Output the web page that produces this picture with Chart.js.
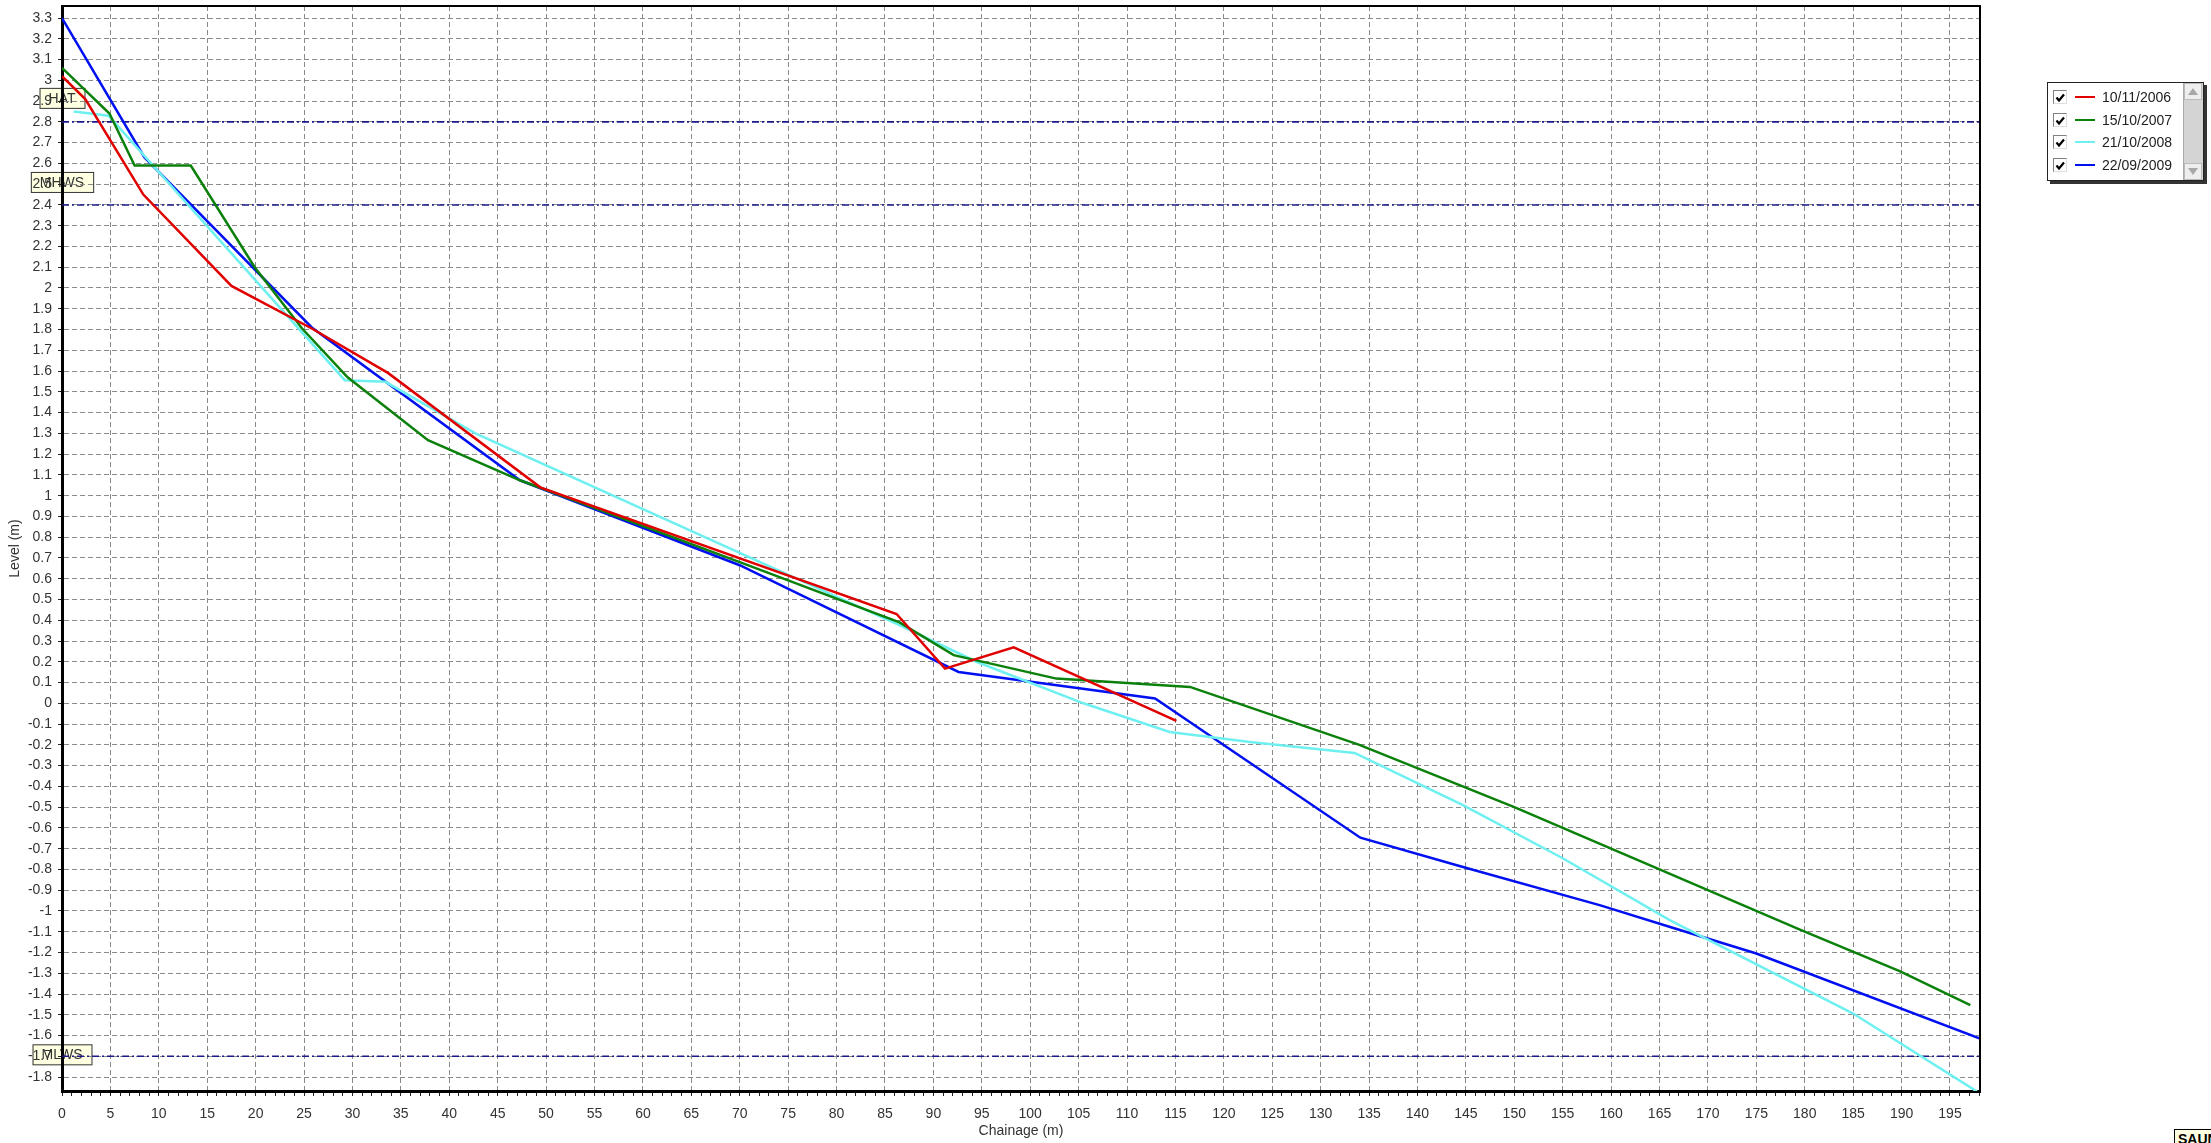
<!DOCTYPE html>
<html>
<head>
<meta charset="utf-8">
<title>Beach profile levels</title>
<script src="https://cdn.jsdelivr.net/npm/chart.js@4.4.1/dist/chart.umd.min.js"></script>
<style>
    html, body { margin: 0; padding: 0; background: #fff; overflow: hidden; }
    #wrap { position: relative; width: 2211px; height: 1143px; }
    #legend {
        position: absolute; left: 2047px; top: 82px; width: 155px; height: 97px;
        border: 1px solid #222; background: #fff; box-shadow: 3px 3px 0 #333;
        font: 14px 'Liberation Sans', Arial, sans-serif; color: #222;
    }
    .row { position: absolute; left: 0; height: 20px; display: flex; align-items: center; }
    .cb { margin-left: 5px; width: 12px; height: 12px; border: 1px solid #808080; border-right-color: #ddd; border-bottom-color: #ddd; background: #fff; }
    .sw { margin-left: 8px; width: 20px; height: 2px; }
    .lb { margin-left: 7px; }
    #scroll { position: absolute; right: 0; top: 0; width: 19px; height: 100%; background: #d4d4d4; border-left: 1px solid #aaa; }
    .btn { position: absolute; left: 0; width: 18px; height: 17px; background: #eee; border: 1px solid #bbb; box-sizing: border-box; }
    #sau {
        position: absolute; left: 2174px; top: 1129px; width: 60px; height: 20px;
        border: 1px solid #000; background: #ffffe1; box-sizing: border-box;
        font: bold 14px 'Liberation Sans', Arial, sans-serif; padding-left: 3px; line-height: 18px;
    }
</style>
</head>
<body>
<div id="wrap">
    <canvas id="chart" width="2211" height="1143"></canvas>
    <div id="legend"></div>
    <div id="sau">SAUNTON</div>
</div>
<script>
const FONT = "'Liberation Sans', Arial, sans-serif";
const GRID = '#8a8a8a';

// survey dates and line colours
const surveyDates = ['10/11/2006', '15/10/2007', '21/10/2008', '22/09/2009'];
const surveyColors = ['#e00000', '#0b800b', '#6ef0f0', '#0010f0'];

// chainage (m) / level (m) per survey
const chain2006 = [0, 2.4, 8.4, 17.5, 25.8, 33.7, 49.4, 86.2, 91.2, 98.3, 115.1];
const level2006 = [3.02, 2.91, 2.45, 2.01, 1.805, 1.59, 1.04, 0.43, 0.167, 0.27, -0.085];

const chain2007 = [0, 4.9, 7.5, 13.3, 19.9, 24.8, 29.5, 37.8, 47.3, 50.1, 70, 86.5, 92.1, 102.7, 116.5, 134, 150, 165, 179.5, 189.8, 197.1];
const level2007 = [3.06, 2.84, 2.59, 2.59, 2.10, 1.805, 1.57, 1.267, 1.074, 1.026, 0.68, 0.39, 0.232, 0.119, 0.079, -0.2, -0.5, -0.8, -1.09, -1.29, -1.454];

const chain2008 = [1.2, 4.8, 29.2, 33.4, 42.7, 86.5, 94.5, 105.5, 114.4, 122.7, 133.5, 144.7, 155, 166.1, 185, 197.8];
const level2008 = [2.85, 2.83, 1.556, 1.548, 1.30, 0.376, 0.199, 0.0, -0.138, -0.186, -0.239, -0.49, -0.746, -1.045, -1.494, -1.87];

const chain2009 = [0, 8.5, 25.8, 47.3, 70, 92.6, 112.9, 134.1, 144.7, 158.9, 166.1, 175, 198.1];
const level2009 = [3.3, 2.63, 1.81, 1.074, 0.665, 0.151, 0.023, -0.647, -0.788, -0.973, -1.077, -1.205, -1.615];

// tide levels
const tideNames = ['HAT', 'MHWS', 'MLWS'];
const tideLevels = [2.8, 2.4, -1.7];

const X_MIN = 0, X_MAX = 198.1;
const Y_MIN = -1.867, Y_MAX = 3.358;

const chains = [chain2006, chain2007, chain2008, chain2009];
const levels = [level2006, level2007, level2008, level2009];

function toPoints(xs, ys) {
    return xs.map((x, i) => ({ x: x, y: ys[i] }));
}

const datasets = surveyDates.map((d, i) => ({
    label: d,
    data: toPoints(chains[i], levels[i]),
    borderColor: surveyColors[i],
    borderWidth: 2.5,
    pointRadius: 0,
    tension: 0,
    fill: false
}));

tideLevels.forEach((lv, i) => {
    datasets.push({
        label: tideNames[i],
        data: [{ x: X_MIN, y: lv }, { x: X_MAX, y: lv }],
        borderColor: '#1a1a8a',
        borderWidth: 1.6,
        borderDash: [7, 3, 2, 3],
        pointRadius: 0,
        fill: false
    });
});

// tide label boxes sit under the axis, drawn before everything
const tideBoxes = {
    id: 'tideBoxes',
    beforeDraw(chart) {
        const { ctx, chartArea, scales } = chart;
        const offsets = [-24, -23, -2];
        ctx.save();
        ctx.font = '14px ' + FONT;
        ctx.textAlign = 'center';
        ctx.textBaseline = 'middle';
        tideNames.forEach((name, i) => {
            const cy = scales.y.getPixelForValue(tideLevels[i]) + offsets[i];
            const w = ctx.measureText(name).width + 18;
            const cx = chartArea.left;
            ctx.fillStyle = '#ffffe1';
            ctx.fillRect(cx - w / 2, cy - 10, w, 21);
            ctx.strokeStyle = '#333';
            ctx.lineWidth = 1;
            ctx.strokeRect(cx - w / 2 + 0.5, cy - 9.5, w, 20);
            ctx.fillStyle = '#333';
            ctx.fillText(name, cx, cy + 1);
        });
        ctx.restore();
    },
    afterDraw(chart) {
        const { ctx, chartArea } = chart;
        ctx.save();
        ctx.strokeStyle = '#000';
        ctx.lineWidth = 2;
        ctx.beginPath();
        ctx.moveTo(chartArea.left, chartArea.top);
        ctx.lineTo(chartArea.right, chartArea.top);
        ctx.lineTo(chartArea.right, chartArea.bottom);
        ctx.stroke();
        ctx.restore();
    }
};

new Chart(document.getElementById('chart'), {
    type: 'line',
    data: { datasets: datasets },
    options: {
        responsive: false,
        animation: false,
        devicePixelRatio: 1,
        events: [],
        layout: { padding: { left: 0, top: 6, right: 231, bottom: 0 } },
        plugins: { legend: { display: false }, tooltip: { enabled: false } },
        scales: {
            x: {
                type: 'linear',
                bounds: 'data',
                min: X_MIN,
                max: X_MAX,
                afterBuildTicks: s => {
                    s.ticks = [];
                    for (let v = 0; v <= X_MAX; v++) s.ticks.push({ value: v });
                },
                afterFit: s => {
                    s.height = 52;
                    s.paddingLeft = 0;
                    s.paddingRight = 0;
                },
                grid: {
                    color: c => (c.tick && c.tick.value % 5 === 0) ? GRID : 'transparent',
                    lineWidth: 1,
                    tickColor: '#222',
                    tickLength: 5,
                    tickBorderDash: []
                },
                border: { color: '#000', width: 3, dash: [5, 3] },
                ticks: {
                    autoSkip: false,
                    maxRotation: 0,
                    padding: 10,
                    color: '#333',
                    font: { size: 14, family: FONT },
                    callback: v => (v % 5 === 0 ? String(v) : '')
                },
                title: {
                    display: true,
                    text: 'Chainage (m)',
                    color: '#333',
                    font: { size: 14, family: FONT },
                    padding: { top: 0, bottom: 3 }
                }
            },
            y: {
                type: 'linear',
                bounds: 'data',
                min: Y_MIN,
                max: Y_MAX,
                afterBuildTicks: s => {
                    s.ticks = [];
                    for (let i = -18; i <= 33; i++) s.ticks.push({ value: i / 10 });
                },
                afterFit: s => {
                    s.width = 62;
                    s.paddingTop = 0;
                    s.paddingBottom = 0;
                },
                grid: {
                    color: GRID,
                    lineWidth: 1,
                    tickColor: '#222',
                    tickLength: 4,
                    tickBorderDash: []
                },
                border: { color: '#000', width: 3, dash: [5, 3] },
                ticks: {
                    autoSkip: false,
                    padding: 6,
                    color: '#333',
                    font: { size: 14, family: FONT },
                    callback: v => String(Math.round(v * 10) / 10)
                },
                title: {
                    display: true,
                    text: 'Level (m)',
                    color: '#333',
                    font: { size: 14, family: FONT },
                    padding: { top: 7, bottom: 0 }
                }
            }
        }
    },
    plugins: [tideBoxes]
});

// legend with check boxes and a scroll bar, like the original control
const legend = document.getElementById('legend');
surveyDates.forEach((d, i) => {
    const row = document.createElement('div');
    row.className = 'row';
    row.style.top = (4 + i * 22.7) + 'px';
    row.innerHTML =
        '<span class="cb"><svg width="12" height="12" viewBox="0 0 12 12"><path d="M2.5 5.5 L5 8.5 L10 2.5" stroke="#000" stroke-width="2.2" fill="none"/></svg></span>' +
        '<span class="sw" style="background:' + surveyColors[i] + '"></span>' +
        '<span class="lb">' + d + '</span>';
    legend.appendChild(row);
});
const scroll = document.createElement('div');
scroll.id = 'scroll';
scroll.innerHTML =
    '<div class="btn" style="top:0"><svg width="16" height="15"><path d="M3 11 L8 4 L13 11 Z" fill="#a8a8a8"/></svg></div>' +
    '<div class="btn" style="bottom:0"><svg width="16" height="15"><path d="M3 4 L8 11 L13 4 Z" fill="#a8a8a8"/></svg></div>';
legend.appendChild(scroll);
</script>
</body>
</html>
